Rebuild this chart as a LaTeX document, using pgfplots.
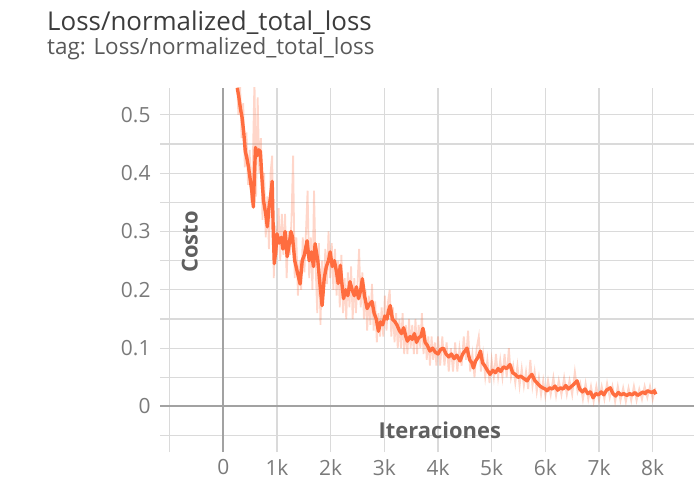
\documentclass[border=0pt]{standalone}
\usepackage{fontspec}
\setmainfont{Open Sans}
\usepackage{pgfplots}
\pgfplotsset{compat=1.18}
\usepackage{pgfplotstable}

\definecolor{lossorange}{HTML}{FF6D3F}
\definecolor{gridgray}{HTML}{DADADA}
\definecolor{zerogray}{HTML}{A2A2A2}
\definecolor{ticktext}{HTML}{7A7A7A}
\definecolor{labeltext}{HTML}{5F5F5F}
\definecolor{titletext}{HTML}{3C3C3C}

% smoothed loss curve (step, value)
\pgfplotstableread{
s v
260 0.546
290 0.530
320 0.510
350 0.495
380 0.470
410 0.437
440 0.425
470 0.410
500 0.390
530 0.370
560 0.342
580 0.400
600 0.444
630 0.430
660 0.440
690 0.437
720 0.390
750 0.352
790 0.330
820 0.308
850 0.340
880 0.360
910 0.386
930 0.300
950 0.245
980 0.270
1000 0.296
1040 0.280
1080 0.290
1110 0.270
1150 0.300
1190 0.257
1230 0.280
1260 0.300
1290 0.290
1330 0.250
1380 0.230
1430 0.210
1470 0.250
1510 0.260
1560 0.284
1600 0.250
1640 0.265
1680 0.240
1710 0.279
1760 0.250
1800 0.210
1840 0.173
1880 0.220
1920 0.240
1960 0.250
1990 0.265
2030 0.240
2070 0.250
2110 0.230
2140 0.211
2180 0.242
2210 0.210
2240 0.185
2280 0.200
2320 0.190
2360 0.214
2400 0.200
2440 0.190
2480 0.205
2520 0.185
2560 0.200
2590 0.219
2630 0.190
2680 0.168
2720 0.175
2770 0.180
2810 0.160
2850 0.150
2890 0.129
2930 0.145
2970 0.140
3010 0.155
3050 0.150
3080 0.165
3110 0.173
3150 0.150
3200 0.145
3240 0.139
3280 0.130
3320 0.125
3360 0.135
3400 0.120
3430 0.112
3480 0.120
3520 0.115
3560 0.125
3600 0.110
3640 0.118
3680 0.120
3720 0.134
3760 0.110
3800 0.105
3850 0.095
3900 0.100
3950 0.093
4000 0.090
4050 0.098
4100 0.100
4150 0.090
4200 0.085
4250 0.090
4300 0.082
4350 0.088
4410 0.078
4460 0.090
4500 0.095
4540 0.100
4590 0.080
4630 0.075
4660 0.066
4700 0.078
4750 0.085
4790 0.095
4830 0.075
4870 0.070
4920 0.062
4970 0.055
5020 0.062
5070 0.058
5120 0.065
5170 0.060
5220 0.068
5280 0.065
5340 0.072
5390 0.058
5440 0.055
5490 0.050
5540 0.052
5600 0.048
5660 0.044
5700 0.050
5750 0.055
5800 0.045
5850 0.040
5900 0.035
5950 0.032
6000 0.030
6030 0.027
6080 0.032
6130 0.030
6180 0.035
6230 0.028
6280 0.032
6330 0.030
6380 0.036
6430 0.030
6480 0.034
6530 0.038
6590 0.044
6640 0.030
6690 0.025
6740 0.030
6790 0.022
6840 0.025
6890 0.015
6940 0.022
6990 0.020
7040 0.025
7090 0.020
7140 0.028
7210 0.032
7260 0.022
7310 0.018
7360 0.024
7410 0.020
7460 0.022
7520 0.019
7570 0.022
7620 0.020
7670 0.024
7720 0.019
7770 0.022
7820 0.025
7860 0.022
7900 0.027
7950 0.025
7990 0.024
8030 0.027
8060 0.021
}\smoothloss

% raw loss values (step, value)
\pgfplotstableread{
s v
250 0.580
280 0.500
310 0.560
340 0.460
370 0.520
400 0.410
430 0.470
460 0.380
490 0.440
520 0.350
550 0.420
580 0.560
610 0.360
640 0.530
670 0.400
700 0.460
730 0.320
760 0.400
790 0.290
820 0.360
850 0.270
880 0.400
910 0.430
940 0.220
970 0.310
1000 0.260
1030 0.340
1060 0.250
1090 0.330
1120 0.260
1150 0.330
1180 0.220
1210 0.300
1240 0.260
1270 0.320
1300 0.430
1330 0.220
1360 0.290
1390 0.190
1420 0.250
1450 0.200
1480 0.290
1510 0.230
1540 0.300
1570 0.370
1600 0.220
1630 0.290
1660 0.200
1690 0.370
1720 0.240
1750 0.160
1780 0.280
1810 0.140
1840 0.250
1870 0.190
1900 0.270
1930 0.210
1960 0.300
1990 0.220
2020 0.280
2050 0.200
2080 0.270
2110 0.190
2140 0.250
2170 0.170
2200 0.260
2230 0.160
2260 0.220
2290 0.150
2320 0.230
2350 0.170
2380 0.240
2410 0.150
2440 0.220
2470 0.160
2500 0.210
2530 0.270
2560 0.170
2590 0.230
2620 0.150
2650 0.200
2680 0.130
2710 0.190
2740 0.140
2770 0.210
2800 0.130
2830 0.180
2860 0.110
2890 0.160
2920 0.120
2950 0.170
2980 0.120
3010 0.190
3040 0.130
3070 0.180
3100 0.200
3130 0.120
3160 0.170
3190 0.110
3220 0.160
3250 0.100
3280 0.150
3310 0.100
3340 0.160
3370 0.090
3400 0.140
3430 0.090
3460 0.150
3490 0.100
3520 0.140
3550 0.090
3580 0.150
3610 0.090
3640 0.140
3670 0.100
3700 0.160
3730 0.090
3760 0.130
3790 0.080
3820 0.120
3850 0.070
3880 0.120
3910 0.080
3940 0.110
3970 0.070
4000 0.120
4040 0.070
4080 0.120
4120 0.070
4160 0.110
4200 0.060
4240 0.100
4280 0.060
4320 0.110
4360 0.060
4400 0.100
4440 0.070
4480 0.120
4520 0.080
4560 0.130
4600 0.060
4640 0.090
4680 0.050
4720 0.100
4760 0.120
4800 0.060
4840 0.090
4880 0.050
4920 0.080
4960 0.040
5000 0.080
5040 0.050
5080 0.090
5120 0.050
5160 0.080
5200 0.050
5240 0.090
5280 0.050
5320 0.100
5360 0.050
5400 0.070
5440 0.040
5480 0.070
5520 0.035
5560 0.065
5600 0.035
5640 0.060
5680 0.030
5720 0.080
5760 0.035
5800 0.060
5840 0.025
5880 0.050
5920 0.020
5960 0.045
6000 0.018
6050 0.045
6100 0.020
6150 0.050
6200 0.018
6250 0.045
6300 0.020
6350 0.050
6400 0.020
6450 0.045
6500 0.020
6550 0.060
6600 0.025
6650 0.040
6700 0.012
6750 0.040
6800 0.012
6850 0.035
6900 0.008
6950 0.035
7000 0.010
7050 0.035
7100 0.012
7150 0.040
7200 0.015
7250 0.035
7300 0.008
7350 0.035
7400 0.010
7450 0.032
7500 0.008
7550 0.032
7600 0.010
7650 0.035
7700 0.010
7750 0.030
7800 0.012
7850 0.035
7900 0.015
7950 0.035
8000 0.012
8050 0.032
}\rawloss

\begin{document}
\begin{tikzpicture}
\path[use as bounding box] (0,0) rectangle (694bp,483bp);

% card header
\node[anchor=base west, inner sep=0, text=titletext,
      font=\fontsize{26}{30}\selectfont] at (47bp,452bp) {Loss/normalized\_total\_loss};
\node[anchor=base west, inner sep=0, text=titletext!85,
      font=\fontsize{22.5}{26}\selectfont] at (47bp,428bp) {tag: Loss/normalized\_total\_loss};

\begin{axis}[
  at={(160bp,31bp)}, anchor=south west,
  scale only axis, width=534bp, height=364bp,
  xmin=-1180, xmax=8770, ymin=-0.078, ymax=0.546,
  axis line style={draw=none},
  tick style={draw=none},
  grid=both,
  grid style={gridgray, line width=1.3bp},
  minor grid style={gridgray, line width=1.3bp},
  xtick={0,1000,...,8000},
  xticklabels={0,1k,2k,3k,4k,5k,6k,7k,8k},
  minor xtick={-1000},
  ytick={0,0.1,0.2,0.3,0.4,0.5},
  yticklabels={0,0.1,0.2,0.3,0.4,0.5},
  minor ytick={-0.05,0.05,0.15,0.25,0.35,0.45},
  extra x ticks={0}, extra x tick labels={},
  extra y ticks={0}, extra y tick labels={},
  extra tick style={grid style={zerogray, line width=2bp}},
  /pgf/number format/assume math mode=true,
  ticklabel style={font=\fontsize{21}{23}\selectfont, text=ticktext},
  xticklabel style={yshift=-4bp},
  yticklabel style={xshift=-6bp},
  xlabel={\textbf{Iteraciones}},
  ylabel={\textbf{Costo}},
  label style={font=\fontsize{22}{24}\selectfont, text=labeltext},
  xlabel style={at={(rel axis cs:0.524,0.06)}, anchor=center},
  ylabel style={at={(rel axis cs:0.056,0.577)}, anchor=center},
]
\addplot[lossorange, opacity=0.28, line width=1.8bp] table[x=s, y=v] {\rawloss};
\addplot[lossorange, line width=3.4bp, line join=round] table[x=s, y=v] {\smoothloss};
\end{axis}
\end{tikzpicture}
\end{document}
